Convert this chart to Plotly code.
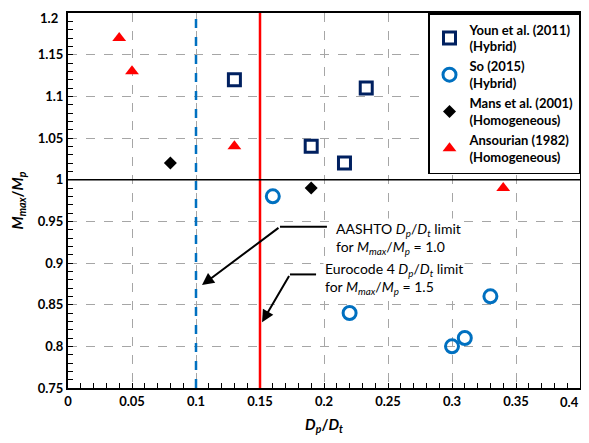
import plotly.graph_objects as go

# Data
youn_x = [0.13, 0.19, 0.216, 0.233]
youn_y = [1.12, 1.04, 1.02, 1.11]
so_x = [0.16, 0.22, 0.30, 0.31, 0.33]
so_y = [0.98, 0.84, 0.80, 0.81, 0.86]
mans_x = [0.08, 0.19]
mans_y = [1.02, 0.99]
ans_x = [0.04, 0.05, 0.13, 0.34]
ans_y = [1.17, 1.13, 1.04, 0.99]

aashto_limit = [0.1]
eurocode_limit = [0.15]
ref_ratio = [1.0]

x_ticks = [0, 0.05, 0.1, 0.15, 0.2, 0.25, 0.3, 0.35, 0.4]
x_tick_labels = ["0", "0.05", "0.1", "0.15", "0.2", "0.25", "0.3", "0.35", "0.4"]
y_ticks = [0.75, 0.8, 0.85, 0.9, 0.95, 1.0, 1.05, 1.1, 1.15, 1.2]
y_tick_labels = ["0.75", "0.8", "0.85", "0.9", "0.95", "1", "1.05", "1.1", "1.15", "1.2"]

FONT = "Lato, Carlito, Liberation Sans, sans-serif"

fig = go.Figure()

fig.add_trace(go.Scatter(
    x=youn_x, y=youn_y, mode="markers", name="Youn et al. (2011)<br>(Hybrid)",
    marker=dict(symbol="square-open", size=12, color="#002060", line=dict(width=3, color="#002060"))))
fig.add_trace(go.Scatter(
    x=so_x, y=so_y, mode="markers", name="So (2015)<br>(Hybrid)",
    marker=dict(symbol="circle-open", size=13, color="#0070C0", line=dict(width=3, color="#0070C0"))))
fig.add_trace(go.Scatter(
    x=mans_x, y=mans_y, mode="markers", name="Mans et al. (2001)<br>(Homogeneous)",
    marker=dict(symbol="diamond", size=10, color="black")))
fig.add_trace(go.Scatter(
    x=ans_x, y=ans_y, mode="markers", name="Ansourian (1982)<br>(Homogeneous)",
    marker=dict(symbol="triangle-up", size=12, color="#FF0000")))

# reference lines
for xv in aashto_limit:
    fig.add_shape(type="line", xref="x", yref="paper", x0=xv, x1=xv, y0=0, y1=1,
                  line=dict(color="#0070C0", width=2.5, dash="dash"), layer="above")
for xv in eurocode_limit:
    fig.add_shape(type="line", xref="x", yref="paper", x0=xv, x1=xv, y0=0, y1=1,
                  line=dict(color="#FF0000", width=2.5), layer="above")
for yv in ref_ratio:
    fig.add_shape(type="line", xref="paper", yref="y", x0=0, x1=1, y0=yv, y1=yv,
                  line=dict(color="black", width=1.5), layer="above")

# AASHTO annotation (elbow arrow)
fig.add_shape(type="line", xref="x", yref="y", x0=0.1656, x1=0.2023, y0=0.9435, y1=0.9435,
              line=dict(color="black", width=2))
fig.add_annotation(x=0.1047, y=0.8735, ax=0.1656, ay=0.9435, axref="x", ayref="y",
                   xref="x", yref="y", text="", showarrow=True, arrowhead=2,
                   arrowsize=1.2, arrowwidth=2, arrowcolor="black")
fig.add_annotation(x=0.2075, y=0.929, xref="x", yref="y", xanchor="left", yanchor="middle",
                   align="left", showarrow=False, bgcolor="white",
                   text="AASHTO <i>D</i><sub><i>p</i></sub>/<i>D</i><sub><i>t</i></sub> limit<br>"
                        "for <i>M</i><sub><i>max</i></sub>/<i>M</i><sub><i>p</i></sub> = 1.0",
                   font=dict(family=FONT, size=14, color="black"))

# Eurocode annotation (elbow arrow)
fig.add_shape(type="line", xref="x", yref="y", x0=0.1734, x1=0.1938, y0=0.8863, y1=0.8863,
              line=dict(color="black", width=2))
fig.add_annotation(x=0.1516, y=0.829, ax=0.1734, ay=0.8863, axref="x", ayref="y",
                   xref="x", yref="y", text="", showarrow=True, arrowhead=2,
                   arrowsize=1.2, arrowwidth=2, arrowcolor="black")
fig.add_annotation(x=0.1995, y=0.881, xref="x", yref="y", xanchor="left", yanchor="middle",
                   align="left", showarrow=False, bgcolor="white",
                   text="Eurocode 4 <i>D</i><sub><i>p</i></sub>/<i>D</i><sub><i>t</i></sub> limit<br>"
                        "for <i>M</i><sub><i>max</i></sub>/<i>M</i><sub><i>p</i></sub> = 1.5",
                   font=dict(family=FONT, size=14, color="black"))

# edge tick labels would overflow the page: draw them anchored inside the page
shown_x_labels = x_tick_labels[:-1] + [""]
shown_y_labels = y_tick_labels[:-1] + [""]
fig.add_annotation(x=x_ticks[-1], xref="x", y=0, yref="paper", yshift=-4,
                   xanchor="right", yanchor="top", showarrow=False, xshift=1,
                   text=x_tick_labels[-1], font=dict(family=FONT, size=13, weight="bold"))
fig.add_annotation(x=0, xref="paper", y=y_ticks[-1], yref="y", yshift=5,
                   xanchor="right", yanchor="top", showarrow=False, xshift=-8,
                   text=y_tick_labels[-1], font=dict(family=FONT, size=13, weight="bold"))

fig.update_layout(
    width=573, height=427,
    margin=dict(l=60, r=1, t=5, b=47, autoexpand=False),
    paper_bgcolor="white", plot_bgcolor="white",
    font=dict(family=FONT, color="black"),
    showlegend=True,
    legend=dict(x=1, y=1, xanchor="right", yanchor="top", bgcolor="white",
                bordercolor="black", borderwidth=1.5, tracegroupgap=0,
                font=dict(family=FONT, size=13, color="black", weight="bold")),
    xaxis=dict(range=[0, 0.4], tickvals=x_ticks, ticktext=shown_x_labels, automargin=False,
               showgrid=True, gridcolor="#A6A6A6", griddash="dash", gridwidth=1,
               showline=True, linecolor="black", linewidth=2, mirror=True,
               ticks="inside", ticklen=5, tickcolor="black", zeroline=False,
               minor=dict(dtick=0.01, ticks="inside", ticklen=5, tickcolor="black", showgrid=False),
               tickfont=dict(family=FONT, size=13, weight="bold"),
               title=dict(text="<b><i>D</i><sub><i>p</i></sub>/<i>D</i><sub><i>t</i></sub></b>",
                          font=dict(family=FONT, size=15), standoff=12)),
    yaxis=dict(range=[0.75, 1.2], tickvals=y_ticks, ticktext=shown_y_labels, automargin=False,
               showgrid=True, gridcolor="#A6A6A6", griddash="dash", gridwidth=1,
               showline=True, linecolor="black", linewidth=2, mirror=True,
               ticks="inside", ticklen=5, tickcolor="black", zeroline=False,
               minor=dict(dtick=0.01, ticks="inside", ticklen=5, tickcolor="black", showgrid=False),
               tickfont=dict(family=FONT, size=13, weight="bold"),
               title=dict(text="<b><i>M</i><sub><i>max</i></sub>/<i>M</i><sub><i>p</i></sub></b>",
                          font=dict(family=FONT, size=15), standoff=12)),
)

fig.write_html("out.html")
